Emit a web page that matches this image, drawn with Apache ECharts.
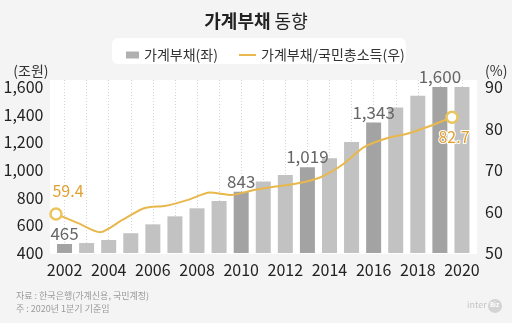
<!DOCTYPE html>
<html><head><meta charset="utf-8">
<script src="https://cdn.jsdelivr.net/npm/echarts@6/dist/echarts.min.js"></script>
<style>html,body{margin:0;padding:0;background:#f4f4f4;}#c{width:512px;height:323px;}</style>
</head><body><div id="c"></div>
<script>
const years = ['2002','2003','2004','2005','2006','2007','2008','2009','2010','2011','2012','2013','2014','2015','2016','2017','2018','2019','2020'];
const debt = [465, 472, 494, 543, 607, 665, 723, 776, 843, 916, 964, 1019, 1085, 1203, 1343, 1451, 1537, 1600, 1611];
const ratio = [59.4, 57.2, 55.0, 57.9, 60.8, 61.4, 62.8, 64.6, 64.0, 65.2, 66.0, 66.8, 68.2, 71.2, 75.5, 77.6, 78.8, 80.6, 82.7];
const highlight = [0, 8, 11, 14, 17];
const leftTicks = {min: 400, max: 1600, interval: 200};
const rightTicks = {min: 50, max: 90, interval: 10};

const FONT = '"Noto Sans CJK KR", "Noto Sans", sans-serif';
const LINE_COLOR = '#e8b84c';
const fmt = v => String(v).replace(/\B(?=(\d{3})+(?!\d))/g, ',');

const barData = debt.map((v, i) => {
  const hi = highlight.includes(i);
  return {
    value: v,
    itemStyle: {color: hi ? '#a3a3a3' : '#c2c2c2'},
    label: {show: hi}
  };
});
const lineData = ratio.map((v, i) => {
  const first = i === 0, last = i === ratio.length - 1;
  if (!first && !last) return {value: v};
  return {
    value: v,
    symbol: 'circle',
    symbolSize: 11,
    itemStyle: {color: '#ffffff', borderColor: '#ebc45e', borderWidth: 2.5},
    label: {show: true, position: first ? 'top' : 'bottom', offset: first ? [12, -3] : [2, 0]}
  };
});

const chart = echarts.init(document.getElementById('c'), null, {renderer: 'canvas'});
chart.setOption({
  backgroundColor: '#f4f4f4',
  textStyle: {fontFamily: FONT},
  animation: false,
  title: {
    left: 'center', top: 7,
    text: '{b|가계부채} {n|동향}',
    textStyle: {rich: {
      b: {fontFamily: FONT, fontSize: 18, fontWeight: 'bold', color: '#222'},
      n: {fontFamily: FONT, fontSize: 18, fontWeight: 'normal', color: '#222'}
    }}
  },
  legend: [
    {data: ['가계부채(좌)'], left: 121, top: 43, icon: 'rect', itemWidth: 13, itemHeight: 7,
     itemGap: 6, textStyle: {fontFamily: FONT, fontSize: 14, color: '#333'}},
    {data: [{name: '가계부채/국민총소득(우)', icon: 'rect'}], left: 234, top: 43, itemWidth: 17, itemHeight: 2,
     itemStyle: {color: LINE_COLOR, borderWidth: 0},
     textStyle: {fontFamily: FONT, fontSize: 14, color: '#333'}}
  ],
  graphic: [
    {type: 'rect', z: -10, shape: {x: 112, y: 38, width: 294, height: 26, r: 6}, style: {fill: '#ffffff'}},
    {type: 'rect', z: -10, shape: {x: 50, y: 80, width: 427, height: 174}, style: {fill: '#ffffff'}},
    {type: 'text', left: 16, top: 291, style: {text: '자료 : 한국은행(가계신용, 국민계정)', fill: '#9a9a9a', font: '9px ' + FONT}},
    {type: 'text', left: 16, top: 304, style: {text: '주 : 2020년 1분기 기준임', fill: '#9a9a9a', font: '9px ' + FONT}},
    {type: 'text', left: 467, top: 300, style: {text: 'inter', fill: '#c4c4c4', font: '9px ' + FONT}},
    {type: 'circle', shape: {cx: 495, cy: 306, r: 7}, style: {fill: '#d4d4d4'}},
    {type: 'text', left: 490, top: 302, style: {text: 'Biz', fill: '#ffffff', font: 'bold 6px ' + FONT}}
  ],
  grid: [
    {left: 53.5, width: 419.5, top: 87, height: 166},
    {left: 56, width: 396, top: 87, height: 166},
    {left: 64.5, width: 397.5, top: 80, height: 173}
  ],
  xAxis: [
    {type: 'category', gridIndex: 0, data: years, boundaryGap: true,
     axisLine: {show: false}, axisTick: {show: false}, splitLine: {show: false},
     axisLabel: {interval: 1, margin: 9, fontFamily: FONT, fontSize: 16, color: '#222'}},
    {type: 'category', gridIndex: 1, data: years, boundaryGap: false, show: false},
    {type: 'category', gridIndex: 2, data: years, boundaryGap: false,
     axisLine: {show: false}, axisTick: {show: false}, axisLabel: {show: false},
     splitLine: {show: true, interval: 0, lineStyle: {color: '#d6d6d6', type: [1, 2], width: 1}}}
  ],
  yAxis: [
    {type: 'value', gridIndex: 0, position: 'left', ...leftTicks,
     name: '(조원)', nameLocation: 'end', nameGap: 9,
     nameTextStyle: {fontFamily: FONT, fontSize: 14, color: '#333', align: 'right', padding: [0, 5, 0, 0]},
     axisLine: {show: false}, axisTick: {show: false}, splitLine: {show: false},
     axisLabel: {margin: 10, fontFamily: FONT, fontSize: 16, color: '#222', formatter: fmt}},
    {type: 'value', gridIndex: 0, position: 'right', ...rightTicks,
     name: '(%)', nameLocation: 'end', nameGap: 9,
     nameTextStyle: {fontFamily: FONT, fontSize: 14, color: '#333', align: 'left', padding: [0, 0, 0, 12]},
     axisLine: {show: false}, axisTick: {show: false}, splitLine: {show: false},
     axisLabel: {margin: 12, fontFamily: FONT, fontSize: 16, color: '#222'}},
    {type: 'value', gridIndex: 1, ...rightTicks, show: false, splitLine: {show: false}},
    {type: 'value', gridIndex: 2, min: 0, max: 1, show: false, splitLine: {show: false}}
  ],
  series: [
    {name: '가계부채(좌)', type: 'bar', xAxisIndex: 0, yAxisIndex: 0, barWidth: 15,
     itemStyle: {color: '#b0b0b0'},
     label: {position: 'top', distance: 2, formatter: p => fmt(p.value), fontFamily: FONT, fontSize: 17, color: '#666'},
     data: barData, z: 3},
    {name: '가계부채/국민총소득(우)', type: 'line', xAxisIndex: 1, yAxisIndex: 2,
     smooth: 0.25, symbol: 'none', showSymbol: true,
     lineStyle: {color: LINE_COLOR, width: 2},
     itemStyle: {color: LINE_COLOR},
     label: {fontFamily: FONT, fontSize: 16, color: '#e3a030', textBorderColor: '#ffffff', textBorderWidth: 2,
             formatter: p => p.value.toFixed(1)},
     data: lineData, z: 5}
  ]
});
</script></body></html>
